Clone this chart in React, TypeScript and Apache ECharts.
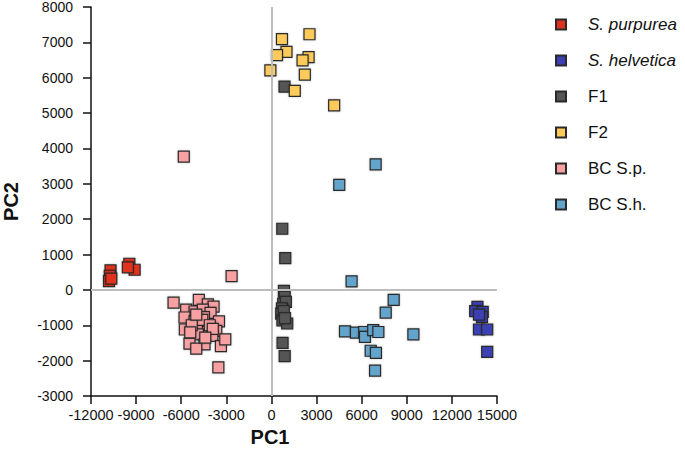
import React, { useEffect, useRef } from "react";
import * as echarts from "echarts";

const seriesNames = ["S. purpurea", "S. helvetica", "F1", "F2", "BC S.p.", "BC S.h."];
const seriesColors = ["#e0311f", "#3b3fb3", "#555555", "#fecb5a", "#f8a1a3", "#62a4cb"];

const sPurpurea = [
  [-10700, 550], [-10750, 400], [-10800, 250], [-10650, 320],
  [-9450, 740], [-9100, 570], [-9550, 640],
];
const sHelvetica = [
  [13700, -480], [13550, -600], [14050, -620], [14000, -770], [13800, -700],
  [13800, -1120], [14350, -1120], [14350, -1750],
];
const f1 = [
  [870, 5750], [720, 1730], [920, 900], [830, -30], [880, -200], [780, -390],
  [960, -340], [700, -520], [650, -670], [730, -860], [1050, -950], [820, -600],
  [900, -800], [740, -1500], [880, -1870],
];
const f2 = [
  [2530, 7230], [700, 7090], [1000, 6730], [370, 6640], [2470, 6580],
  [2070, 6490], [-70, 6210], [2220, 6090], [1550, 5630], [4170, 5220],
];
const bcSp = [
  [-5830, 3770], [-2650, 390], [-6510, -360], [-3530, -2190],
  [-4830, -280], [-4230, -410], [-3850, -470], [-5670, -560], [-5110, -610],
  [-4560, -560], [-4050, -650], [-5780, -780], [-5110, -880], [-4490, -770],
  [-3490, -890], [-5760, -1120], [-5000, -1120], [-4730, -1070], [-4230, -1190],
  [-3670, -1160], [-4890, -1260], [-3930, -1300], [-5450, -1520], [-4450, -1540],
  [-3360, -1590], [-3070, -1400], [-5000, -1660], [-4600, -850], [-5300, -1000],
  [-4100, -1000], [-3900, -1100], [-5000, -700], [-4400, -1350], [-5400, -1200],
];
const bcSh = [
  [6930, 3550], [4510, 2970], [5330, 240], [8130, -280], [7600, -640],
  [4890, -1170], [5620, -1210], [6170, -1190], [6220, -1330], [6770, -1140],
  [7110, -1190], [9440, -1260], [6600, -1720], [6950, -1780], [6890, -2280],
];

const allData = [sPurpurea, sHelvetica, f1, f2, bcSp, bcSh];

const xMin = -12000, xMax = 15000, xInterval = 3000;
const yMin = -3000, yMax = 8000, yInterval = 1000;

const FONT = '"Liberation Sans", Arial, Helvetica, sans-serif';

export default function App() {
  const ref = useRef<HTMLDivElement>(null);
  useEffect(() => {
    if (!ref.current) return;
    const chart = echarts.init(ref.current, undefined, { renderer: "svg" });
    const scatter = allData.map((d, i) => ({
      name: seriesNames[i],
      type: "scatter",
      symbol: "rect",
      symbolSize: 11,
      z: 3,
      data: d,
      itemStyle: {
        color: seriesColors[i],
        borderColor: "#2a2a2a",
        borderWidth: 1.2,
        opacity: 1,
        shadowBlur: 2,
        shadowColor: "rgba(0,0,0,0.25)",
      },
    }));
    chart.setOption({
      animation: false,
      backgroundColor: "#ffffff",
      textStyle: { fontFamily: FONT },
      grid: { left: 91, right: 188, top: 7, bottom: 62, containLabel: false, outerBoundsMode: "none" },
      legend: {
        orient: "vertical",
        left: 550,
        top: 11,
        itemWidth: 10,
        itemHeight: 10,
        itemGap: 19,
        icon: "rect",
        textStyle: { fontSize: 17, color: "#111", fontFamily: FONT, padding: [0, 0, 0, 17] },
        data: seriesNames.map((n, i) => ({
          name: n,
          textStyle: i < 2 ? { fontStyle: "italic" } : {},
        })),
      },
      xAxis: {
        type: "value",
        min: xMin,
        max: xMax,
        interval: xInterval,
        name: "PC1",
        nameLocation: "middle",
        nameGap: 29,
        nameTextStyle: { fontSize: 20, fontWeight: "bold", color: "#111", padding: [0, 48, 0, 0] },
        axisLine: { onZero: false, lineStyle: { color: "#111", width: 1.5 } },
        axisTick: { show: true, length: 8, lineStyle: { color: "#111", width: 1.5 } },
        axisLabel: { fontSize: 14.5, color: "#111", margin: 11, formatter: (v: number) => String(v) },
        splitLine: { show: false },
      },
      yAxis: {
        type: "value",
        min: yMin,
        max: yMax,
        interval: yInterval,
        name: "PC2",
        nameLocation: "middle",
        nameGap: 70,
        nameTextStyle: { fontSize: 20, fontWeight: "bold", color: "#111" },
        axisLine: { onZero: false, lineStyle: { color: "#111", width: 1.5 } },
        axisTick: { show: true, length: 8, lineStyle: { color: "#111", width: 1.5 } },
        axisLabel: { fontSize: 14, color: "#111", margin: 18, formatter: (v: number) => String(v) },
        splitLine: { show: false },
      },
      series: [
        {
          name: "zero",
          type: "scatter",
          data: [],
          z: 1,
          silent: true,
          markLine: {
            silent: true,
            symbol: ["none", "none"],
            label: { show: false },
            lineStyle: { color: "#bdbdbd", width: 2, type: "solid" },
            data: [{ xAxis: 0 }, { yAxis: 0 }],
          },
        },
        ...scatter,
      ],
    });
    return () => chart.dispose();
  }, []);
  return (
    <div
      ref={ref}
      style={{ position: "fixed", left: 0, top: 0, width: 685, height: 458 }}
    />
  );
}
